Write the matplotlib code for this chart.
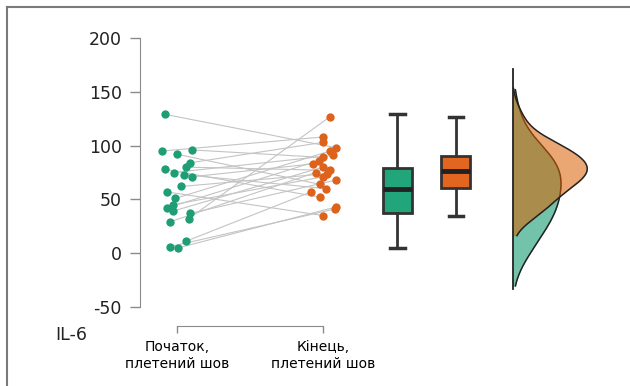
import numpy as np
import matplotlib.pyplot as plt
from matplotlib.lines import Line2D

# IL-6 values, paired (start -> end), braided suture
il6_start = [129, 96, 95, 92, 84, 80, 78, 75, 73, 71, 62, 57, 51, 45, 42, 39, 37, 32, 29, 11, 6, 5]
il6_end = [98, 89, 108, 64, 103, 77, 52, 91, 60, 83, 74, 35, 95, 71, 86, 80, 68, 127, 75, 57, 41, 43]
# horizontal jitter of each dot, as seen in the picture
jit_start = [-0.08, 0.10, -0.10, 0.0, 0.09, 0.06, -0.08, -0.02, 0.05, 0.10, 0.03, -0.07,
             -0.01, -0.03, -0.07, -0.03, 0.09, 0.08, -0.05, 0.06, -0.05, 0.01]
jit_end = [0.09, 0.0, 0.0, -0.02, 0.0, 0.05, -0.02, 0.07, 0.02, -0.07, 0.03, 0.0,
           0.05, 0.0, -0.03, 0.0, 0.09, 0.05, -0.05, -0.08, 0.08, 0.09]
group_labels = ["Початок,\nплетений шов", "Кінець,\nплетений шов"]
y_ticks = [-50, 0, 50, 100, 150, 200]

plt.rcParams['axes.unicode_minus'] = False

GREEN = '#1f9e75'
ORANGE = '#dd621c'
GREEN_BOX = '#22a57a'
ORANGE_BOX = '#e2661f'

fig = plt.figure(figsize=(6.3, 3.86), dpi=100)
ax = fig.add_axes([140 / 630, 1 - 307 / 386, 475 / 630, 269 / 386])

x1 = 1 + np.array(jit_start)
x2 = 2 + np.array(jit_end)
for a, b, ya, yb in zip(x1, x2, il6_start, il6_end):
    ax.plot([a, b], [ya, yb], color='#c4c4c4', lw=0.8, zorder=1)
ax.scatter(x1, il6_start, s=36, color=GREEN, zorder=3, linewidths=0)
ax.scatter(x2, il6_end, s=36, color=ORANGE, zorder=3, linewidths=0)

# box plots
bp = ax.boxplot([il6_start, il6_end], positions=[2.51, 2.91], widths=0.2,
                patch_artist=True, showfliers=False, capwidths=0.1,
                boxprops=dict(linewidth=2, edgecolor='#333333'),
                whiskerprops=dict(linewidth=2, color='#333333'),
                capprops=dict(linewidth=2.5, color='#333333'),
                medianprops=dict(linewidth=3.5, color='#222222'))
for patch, c in zip(bp['boxes'], [GREEN_BOX, ORANGE_BOX]):
    patch.set_facecolor(c)


# half-density clouds
def kde(data, grid, adjust):
    d = np.asarray(data, float)
    bw = adjust * d.std(ddof=1) * len(d) ** (-0.2)
    z = (grid[:, None] - d[None, :]) / bw
    return np.exp(-0.5 * z ** 2).sum(axis=1) / (len(d) * bw * np.sqrt(2 * np.pi)), bw


base = 3.30
curves = []
# (bandwidth adjust, cut below, cut above)
settings = [(1.2, 1.7, 1.1), (1.0, 1.5, 2.1)]
for data, (adj, c_lo, c_hi) in zip((il6_start, il6_end), settings):
    d = np.asarray(data, float)
    _, bw = kde(d, np.array([0.0]), adj)
    grid = np.linspace(d.min() - c_lo * bw, d.max() + c_hi * bw, 300)
    dens, _ = kde(d, grid, adj)
    curves.append((grid, dens))
scale = 0.51 / max(c[1].max() for c in curves)
for (grid, dens), c, al in zip(curves, ['#1b9e77', '#d95f02'], [0.62, 0.55]):
    ax.fill_betweenx(grid, base, base + dens * scale, color=c, alpha=al, lw=0, zorder=2)
    ax.plot(base + dens * scale, grid, color='#222222', lw=1.1, zorder=2)
lo = min(c[0].min() for c in curves) - 3
hi = max(c[0].max() for c in curves) + 18
ax.plot([base, base], [lo, hi], color='#222222', lw=1.3, zorder=2)

ax.set_xlim(0.747, 4.0)
ax.set_ylim(-50, 200)
ax.set_yticks(y_ticks)
ax.set_xticks([1, 2])
ax.set_xticklabels(group_labels, family='Liberation Serif', fontsize=11.5, color='#333333',
                   linespacing=1.2)
ax.tick_params(axis='y', length=7, width=1, color='#8a8a8a', labelsize=12.5, labelcolor='#222222', pad=6)
ax.tick_params(axis='x', length=5, width=1, color='#8a8a8a', pad=5)
for s in ['top', 'right']:
    ax.spines[s].set_visible(False)
ax.spines['left'].set_color('#8a8a8a')
ax.spines['bottom'].set_color('#8a8a8a')
ax.spines['bottom'].set_position(('outward', 14))
ax.spines['bottom'].set_bounds(1, 2)

fig.text(55 / 630, 1 - 335 / 386, "IL-6", fontsize=12.5, color='#222222', va='center', ha='left')

# outer frame (top and left edges)
fig.add_artist(Line2D([6.5 / 630, 1], [1 - 6.5 / 386] * 2, color='#7a7a7a', lw=1.5))
fig.add_artist(Line2D([6.5 / 630] * 2, [0, 1 - 6.5 / 386], color='#7a7a7a', lw=1.5))

fig.savefig('out.png', dpi=100)
